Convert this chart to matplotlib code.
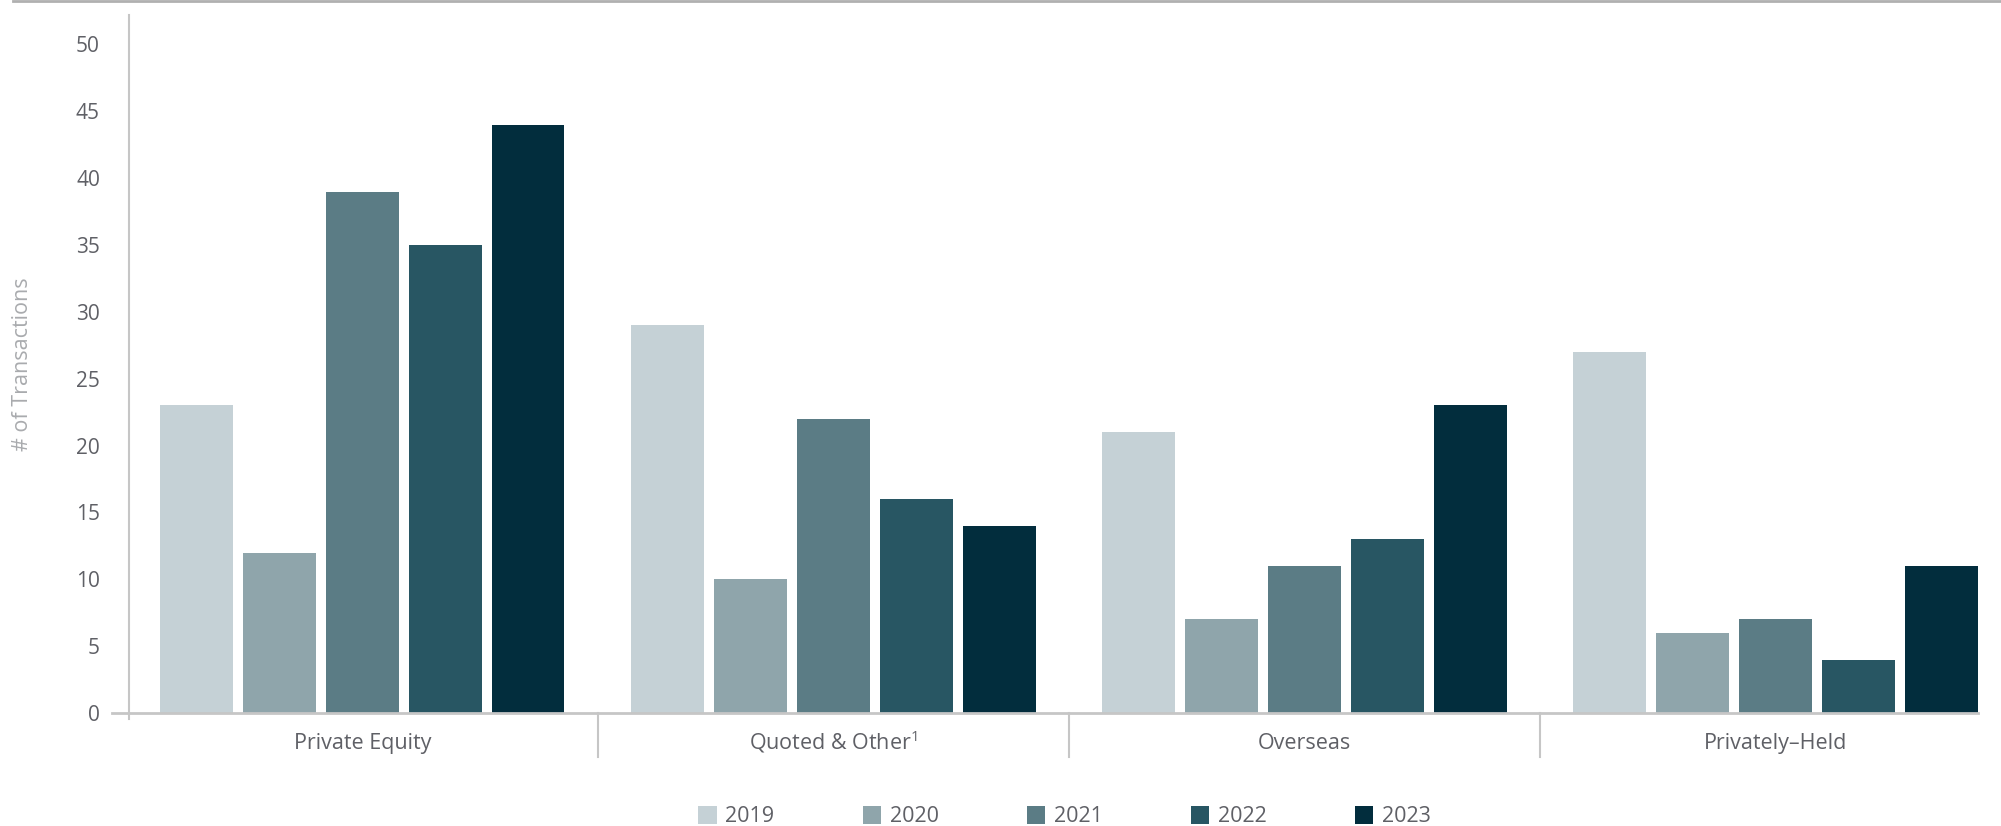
import numpy as np
import matplotlib.pyplot as plt
from matplotlib.lines import Line2D
from matplotlib.patches import Patch
import matplotlib.transforms as mtransforms

plt.rcParams['font.family'] = ['Open Sans', 'DejaVu Sans']
plt.rcParams['mathtext.fontset'] = 'custom'
plt.rcParams['mathtext.rm'] = 'Open Sans'

# Data
categories = ['Private Equity', r'Quoted & Other$^{\mathrm{1}}$', 'Overseas', 'Privately–Held']
years = ['2019', '2020', '2021', '2022', '2023']
counts_2019 = [23, 29, 21, 27]
counts_2020 = [12, 10, 7, 6]
counts_2021 = [39, 22, 11, 7]
counts_2022 = [35, 16, 13, 4]
counts_2023 = [44, 14, 23, 11]
series = [counts_2019, counts_2020, counts_2021, counts_2022, counts_2023]
colors = ['#C5D1D6', '#8FA5AB', '#5B7C85', '#285663', '#022D3D']

text_color = '#5f6066'
line_color = '#c6c6c6'

fig = plt.figure(figsize=(20.01, 8.26), dpi=100)
ax = fig.add_axes([0.0645, 0.1368, 0.924, 0.845])

x = np.arange(len(categories))
step = 0.176
width = 0.1545
for i, (vals, c) in enumerate(zip(series, colors)):
    ax.bar(x + (i - 2) * step, vals, width=width, color=c, label=years[i], zorder=2)

ax.set_xlim(-0.495, 3.43)
ax.set_ylim(0, 52.2)
ax.set_yticks(range(0, 51, 5))
ax.tick_params(axis='y', length=0, pad=21, labelsize=15, labelcolor=text_color)
ax.set_xticks(x)
ax.set_xticklabels(categories)
ax.tick_params(axis='x', length=0, pad=26, labelsize=15.5, labelcolor=text_color)
# align on baselines so the superscript doesn't push its label down
for lbl in ax.get_xticklabels():
    lbl.set_va('baseline')

for s in ax.spines.values():
    s.set_visible(False)

# axis lines, slightly overshooting at the origin
ax.plot([-0.009, 1], [0, 0], transform=ax.transAxes, color=line_color, lw=2, clip_on=False, zorder=3)
ax.plot([0, 0], [-0.008, 1], transform=ax.transAxes, color=line_color, lw=1.5, clip_on=False, zorder=3)

# group separators below the axis
trans = mtransforms.blended_transform_factory(ax.transData, ax.transAxes)
for sep in [0.5, 1.5, 2.5]:
    ax.plot([sep, sep], [0, -0.063], transform=trans, color=line_color, lw=1.5, clip_on=False)

ax.set_ylabel('# of Transactions', fontsize=15.5, color='#a9abae')
ax.yaxis.set_label_coords(-0.052, 0.5)

# top rule across the figure
fig.add_artist(Line2D([0.0065, 1], [0.999, 0.999], transform=fig.transFigure, color='#b0b0b0', lw=2))

handles = [Patch(facecolor=c, label=y) for c, y in zip(colors, years)]
fig.legend(handles=handles, loc='center', bbox_to_anchor=(0.532, 0.011), ncol=5, frameon=False,
           fontsize=15.5, labelcolor=text_color, handlelength=0.85, handleheight=0.85,
           handletextpad=0.4, columnspacing=4.1)

fig.savefig('out.png', dpi=100)
